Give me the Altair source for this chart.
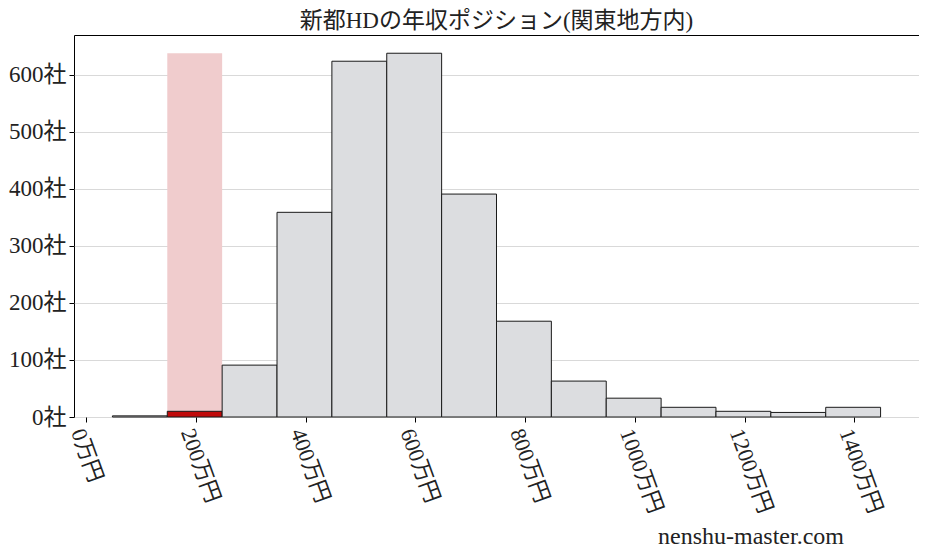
import altair as alt
import pandas as pd

# histogram bins (万円) and number of companies per bin
bin_start = [48, 148, 248, 348, 448, 548, 648, 748, 848, 948, 1048, 1148, 1248, 1348]
bin_end = [148, 248, 348, 448, 548, 648, 748, 848, 948, 1048, 1148, 1248, 1348, 1448]
counts = [2, 10, 91, 359, 624, 638, 391, 168, 63, 33, 17, 10, 8, 17]
highlight_bin = 1  # bin that contains 新都HD

x_ticks = [0, 200, 400, 600, 800, 1000, 1200, 1400]
y_ticks = [0, 100, 200, 300, 400, 500, 600]

title = "新都HDの年収ポジション(関東地方内)"
watermark = "nenshu-master.com"
font = "Liberation Serif, Noto Sans CJK JP"

df = pd.DataFrame({
    "start": bin_start,
    "end": bin_end,
    "count": counts,
    "kind": ["self" if i == highlight_bin else "other" for i in range(len(counts))],
})
hl = pd.DataFrame({
    "start": [bin_start[highlight_bin]],
    "end": [bin_end[highlight_bin]],
    "top": [max(counts)],
})

x_scale = alt.Scale(domain=[-22, 1518], nice=False, zero=False)
y_scale = alt.Scale(domain=[0, 670], nice=False)

background = alt.Chart(hl).mark_rect(color="#f0cccd").encode(
    x=alt.X("start:Q", scale=x_scale,
            axis=alt.Axis(values=x_ticks, labelExpr="datum.value + '万円'",
                          labelAngle=70, labelAlign="left", labelBaseline="middle",
                          labelPadding=7, labelOffset=-9, labelFontSize=22,
                          tickSize=5, grid=False, domain=False, title=None)),
    x2="end:Q",
    y=alt.Y("top:Q", scale=y_scale,
            axis=alt.Axis(values=y_ticks, labelExpr="datum.value + '社'",
                          labelFontSize=23, labelPadding=3, tickSize=5,
                          grid=True, gridColor="#d9d9d9", domain=False, title=None)),
    y2=alt.datum(0),
)

bars = alt.Chart(df).mark_rect(stroke="#1a1a1a", strokeWidth=1).encode(
    x=alt.X("start:Q", scale=x_scale),
    x2="end:Q",
    y=alt.Y("count:Q", scale=y_scale),
    y2=alt.datum(0),
    color=alt.Color("kind:N", legend=None,
                    scale=alt.Scale(domain=["self", "other"], range=["#c00a0a", "#dcdde0"])),
)

mark = alt.Chart(pd.DataFrame({"t": [watermark]})).mark_text(
    fontSize=24, font=font, color="#222222"
).encode(x=alt.value(677), y=alt.value(502), text="t:N")

chart = alt.layer(background, bars, mark).properties(
    width=845,
    height=382,
    autosize=alt.AutoSizeParams(type="none"),
    padding={"left": 66, "top": 27, "right": 0, "bottom": 132},
    title=alt.TitleParams(title, fontSize=23, font=font, fontWeight="normal",
                          anchor="middle", offset=2, color="#222222"),
).configure_view(
    stroke="black", strokeWidth=1
).configure_axis(
    labelFont=font, labelColor="#222222", tickColor="black"
)

chart.save("out.html", embed_options={"renderer": "svg", "actions": False})
